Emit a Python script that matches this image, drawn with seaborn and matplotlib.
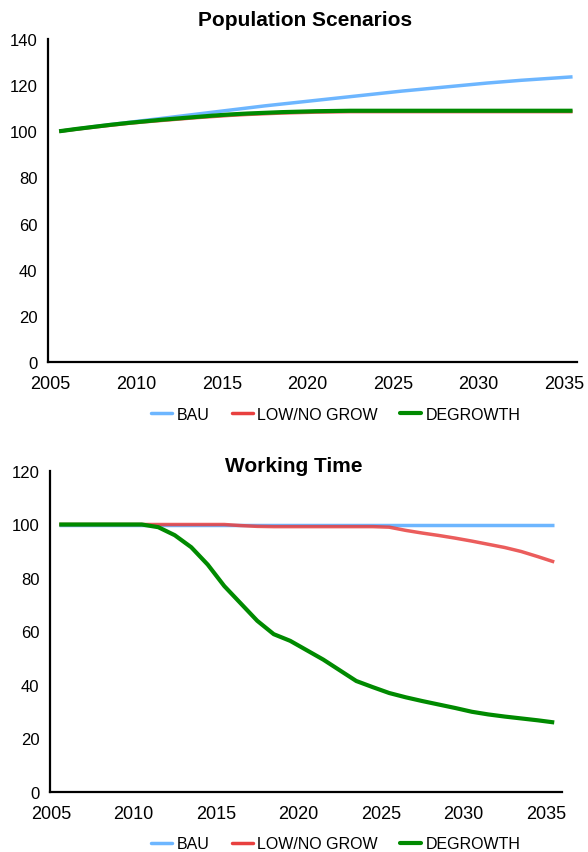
import numpy as np
import pandas as pd
import matplotlib
matplotlib.use("Agg")
import matplotlib.pyplot as plt
from matplotlib.lines import Line2D
import seaborn as sns

years = list(range(2005, 2036))
scenarios = ["BAU", "LOW/NO GROW", "DEGROWTH"]
colors = {"BAU": "#6db6ff", "LOW/NO GROW": "#e8403f", "DEGROWTH": "#008a00"}

pop_bau = [100, 101, 102, 102.9, 103.8, 104.7, 105.6, 106.5, 107.4, 108.3,
           109.2, 110.1, 111.0, 111.8, 112.6, 113.4, 114.2, 115.0, 115.8, 116.6,
           117.4, 118.1, 118.8, 119.5, 120.2, 120.9, 121.5, 122.1, 122.6, 123.1, 123.6]
pop_low = [100, 100.9, 101.8, 102.6, 103.4, 104.1, 104.7, 105.3, 105.9, 106.4,
           106.9, 107.3, 107.6, 107.9, 108.1, 108.3, 108.4, 108.5, 108.5, 108.5,
           108.5, 108.5, 108.5, 108.5, 108.5, 108.5, 108.5, 108.5, 108.5, 108.5, 108.5]
pop_deg = [100, 101, 101.9, 102.8, 103.6, 104.3, 105.0, 105.6, 106.2, 106.8,
           107.3, 107.7, 108.0, 108.3, 108.5, 108.7, 108.8, 108.9, 108.9, 108.9,
           108.9, 108.9, 108.9, 108.9, 108.9, 108.9, 108.9, 108.9, 108.9, 108.9, 108.9]

wt_bau = [100] * 31
wt_low = [100, 100, 100, 100, 100, 100, 100, 100, 100, 100,
          100, 99.6, 99.3, 99.2, 99.2, 99.2, 99.2, 99.2, 99.2, 99.2,
          99.0, 97.8, 96.8, 95.9, 94.9, 93.8, 92.6, 91.4, 89.9, 88.0, 86.0]
wt_deg = [100, 100, 100, 100, 100, 100, 99.0, 96.0, 91.5, 85.0,
          77.0, 70.5, 64.0, 59.0, 56.5, 53.0, 49.5, 45.5, 41.5, 39.2,
          37.0, 35.4, 34.0, 32.7, 31.4, 30.0, 29.0, 28.2, 27.5, 26.8, 26.0]

def long_df(bau, low, deg):
    rows = []
    for name, vals in zip(scenarios, [bau, low, deg]):
        for y, v in zip(years, vals):
            rows.append({"year": y + 0.5, "value": v, "scenario": name})
    return pd.DataFrame(rows)

sns.set_theme(style="white")
plt.rcParams["font.family"] = ["Liberation Sans", "DejaVu Sans"]
plt.rcParams["text.color"] = "black"
plt.rcParams["xtick.color"] = "black"
plt.rcParams["ytick.color"] = "black"

fig = plt.figure(figsize=(5.88, 8.53), dpi=100)
ax1 = fig.add_axes([48/588, 1-363/853, (577-48)/588, (363-40)/853])
ax2 = fig.add_axes([50/588, 1-793/853, (562-50)/588, (793-472)/853])

widths = {"BAU": 2.5, "LOW/NO GROW": 2.5, "DEGROWTH": 3.0}
alphas = {"BAU": 1.0, "LOW/NO GROW": 0.85, "DEGROWTH": 1.0}

def draw(ax, df, ylim, yticks, xlim):
    for name in scenarios:
        sub = df[df["scenario"] == name]
        sns.lineplot(data=sub, x="year", y="value", color=colors[name],
                     linewidth=widths[name], alpha=alphas[name], ax=ax,
                     legend=False, solid_capstyle="butt")
    ax.set_xlim(*xlim)
    ax.set_ylim(*ylim)
    ax.set_yticks(yticks)
    ax.set_xticks(list(range(2005, 2036, 5)))
    ax.set_xlabel("")
    ax.set_ylabel("")
    for s in ["top", "right"]:
        ax.spines[s].set_visible(False)
    for s in ["left", "bottom"]:
        ax.spines[s].set_color("black")
        ax.spines[s].set_linewidth(1.6)
    ax.tick_params(axis="both", which="major", direction="out", length=3.5,
                   width=1.6, color="black", labelcolor="black")
    ax.tick_params(axis="x", pad=6, labelsize=13)
    ax.tick_params(axis="y", pad=4, labelsize=12)

draw(ax1, long_df(pop_bau, pop_low, pop_deg), (0, 140), list(range(0, 141, 20)),
     (2004.85, 2035.76))
draw(ax2, long_df(wt_bau, wt_low, wt_deg), (0, 120), list(range(0, 121, 20)),
     (2004.94, 2035.97))

fig.text(305/588, 1-20/853, "Population Scenarios", ha="center", va="center",
         fontsize=15, fontweight="bold", color="black")
fig.text(294/588, 1-467/853, "Working Time", ha="center", va="center",
         fontsize=15, fontweight="bold", color="black")

handles = [Line2D([], [], color=colors[n], linewidth=3.0 if n == "DEGROWTH" else 2.5)
           for n in scenarios]
for yc in [1-415/853, 1-845/853]:
    leg = fig.legend(handles, scenarios, loc="center", bbox_to_anchor=(336/588, yc),
                     ncol=3, frameon=False, fontsize=11.5, handlelength=1.3,
                     handletextpad=0.3, columnspacing=1.4)
    for t in leg.get_texts():
        t.set_color("black")

fig.savefig("out.png", dpi=100)
